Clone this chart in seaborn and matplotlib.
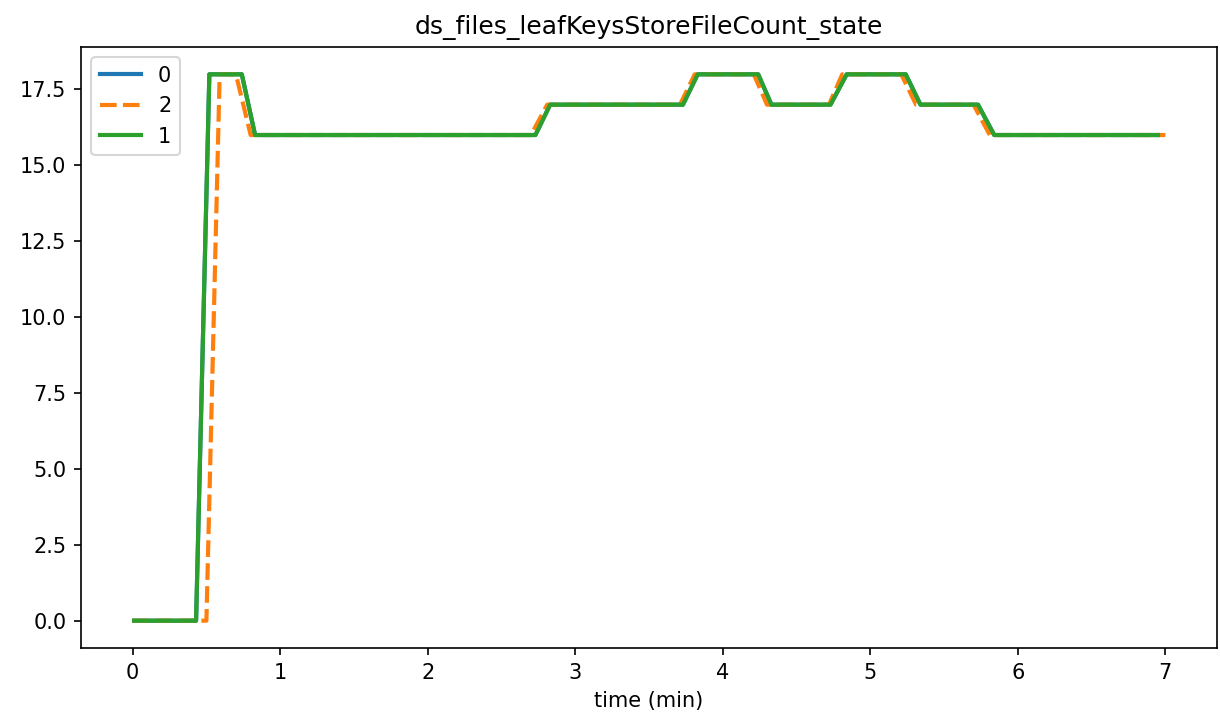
import matplotlib
matplotlib.use("Agg")
import matplotlib.pyplot as plt
import pandas as pd
import seaborn as sns

# breakpoints (time in minutes, file count)
time_0 = [0.01, 0.43, 0.52, 0.74, 0.83, 2.73, 2.83, 3.73, 3.83, 4.24, 4.33, 4.73, 4.84, 5.24, 5.34, 5.73, 5.84, 6.95]
count_0 = [0, 0, 18, 18, 16, 16, 17, 17, 18, 18, 17, 17, 18, 18, 17, 17, 16, 16]

time_2 = [0.0, 0.50, 0.59, 0.70, 0.80, 2.70, 2.81, 3.71, 3.81, 4.21, 4.30, 4.72, 4.81, 5.21, 5.31, 5.70, 5.81, 7.0]
count_2 = [0, 0, 18, 18, 16, 16, 17, 17, 18, 18, 17, 17, 18, 18, 17, 17, 16, 16]

time_1 = [0.01, 0.43, 0.52, 0.74, 0.83, 2.73, 2.83, 3.73, 3.83, 4.24, 4.33, 4.73, 4.84, 5.24, 5.34, 5.73, 5.84, 6.95]
count_1 = [0, 0, 18, 18, 16, 16, 17, 17, 18, 18, 17, 17, 18, 18, 17, 17, 16, 16]

series_order = ["0", "2", "1"]

frames = []
for name, t, v in [("0", time_0, count_0), ("2", time_2, count_2), ("1", time_1, count_1)]:
    frames.append(pd.DataFrame({"time": t, "value": v, "node": name}))
df = pd.concat(frames, ignore_index=True)

dpi = 150
fig, ax = plt.subplots(figsize=(1220 / dpi, 721 / dpi), dpi=dpi)
sns.lineplot(
    data=df,
    x="time",
    y="value",
    hue="node",
    style="node",
    hue_order=series_order,
    style_order=series_order,
    palette={"0": "#1f77b4", "2": "#ff7f0e", "1": "#2ca02c"},
    dashes={"0": "", "2": (4, 1.5), "1": ""},
    linewidth=2,
    sort=False,
    estimator=None,
    ax=ax,
)
ax.set_title("ds_files_leafKeysStoreFileCount_state")
ax.set_xlabel("time (min)")
ax.set_ylabel("")
ax.legend(loc="upper left")
fig.subplots_adjust(left=81 / 1220, right=1217 / 1220, top=1 - 47 / 721, bottom=1 - 648 / 721)
fig.savefig("out.png", dpi=dpi)
plt.close(fig)
